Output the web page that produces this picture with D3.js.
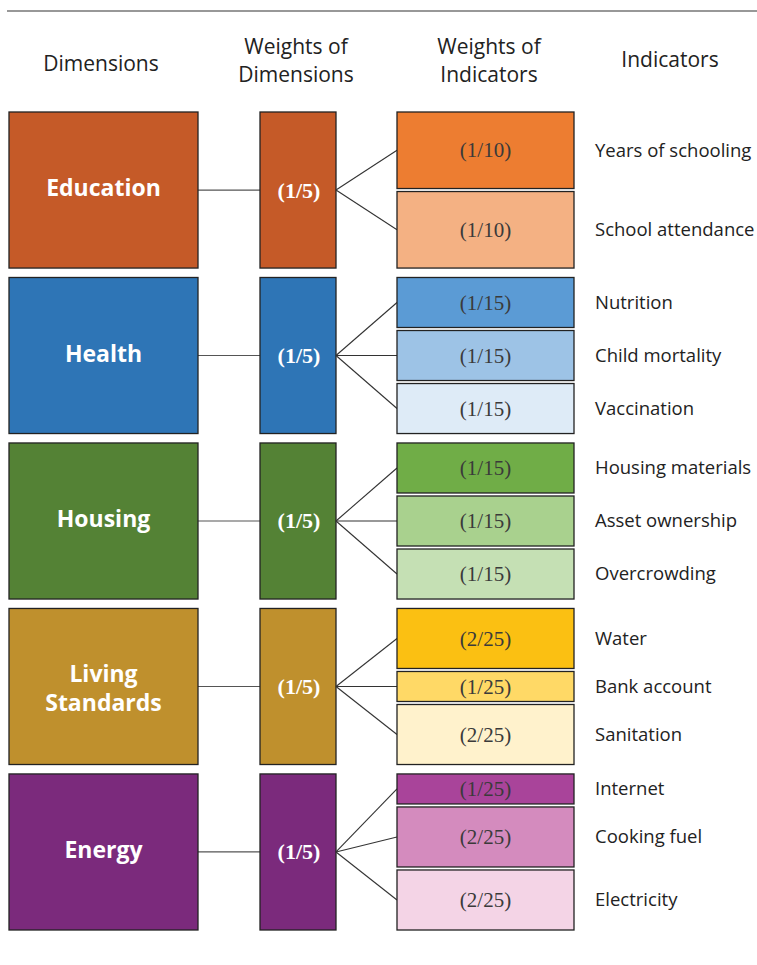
<!DOCTYPE html>
<html><head><meta charset="utf-8">
<script src="https://cdn.jsdelivr.net/npm/d3@7"></script>
<style>body{margin:0;background:#fff}svg{display:block}</style>
</head><body>
<script>
// ---- data ----
const headers = [["Dimensions"], ["Weights of", "Dimensions"], ["Weights of", "Indicators"], ["Indicators"]];
const dimensions = [["Education"], ["Health"], ["Housing"], ["Living", "Standards"], ["Energy"]];
const dimWeightNum = [1, 1, 1, 1, 1];
const dimWeightDen = [5, 5, 5, 5, 5];
const indicatorNames = [
  ["Years of schooling", "School attendance"],
  ["Nutrition", "Child mortality", "Vaccination"],
  ["Housing materials", "Asset ownership", "Overcrowding"],
  ["Water", "Bank account", "Sanitation"],
  ["Internet", "Cooking fuel", "Electricity"]
];
const indicatorNum = [[1, 1], [1, 1, 1], [1, 1, 1], [2, 1, 2], [1, 2, 2]];
const indicatorDen = [[10, 10], [15, 15, 15], [15, 15, 15], [25, 25, 25], [25, 25, 25]];
const dimColors = ["#C55A28", "#2E75B6", "#548235", "#BF902D", "#7B2A7C"];
const indicatorColors = [
  ["#ED7D31", "#F4B183"],
  ["#5B9BD5", "#9DC3E6", "#DEEBF7"],
  ["#70AD47", "#A9D18E", "#C5E0B4"],
  ["#FBC012", "#FFD966", "#FFF2CC"],
  ["#A9449A", "#D48BBE", "#F4D4E6"]
];

// ---- layout ----
const W = 757, H = 965;
const svg = d3.select("body").append("svg").attr("width", W).attr("height", H);
const sans = "'Open Sans', 'Noto Sans', sans-serif";
const serif = "'Liberation Serif', 'DejaVu Serif', serif";

const x = d3.scaleOrdinal().domain(["dimL", "dimR", "wL", "wR", "iL", "iR", "lab"])
  .range([9, 198, 260, 336, 397, 574, 595]);
const y = d3.scaleBand().domain(d3.range(dimensions.length)).range([112, 930]).paddingInner(0.057).paddingOuter(0);
const gap = 3;

svg.append("line").attr("x1", 7).attr("x2", W).attr("y1", 11).attr("y2", 11)
  .attr("stroke", "#333").attr("stroke-width", 1.2);

const headerX = [101, 296, 489, 670];
const headerY = [[71], [54, 82], [54, 82], [67]];
headers.forEach((lines, i) => {
  lines.forEach((t, j) => {
    svg.append("text").attr("x", headerX[i]).attr("y", headerY[i][j])
      .attr("text-anchor", "middle").attr("font-family", sans).attr("font-size", 21)
      .attr("fill", "#222").text(t);
  });
});

dimensions.forEach((dim, i) => {
  const top = y(i), bh = y.bandwidth(), mid = top + bh / 2;
  const g = svg.append("g");
  // connector dim -> weight
  g.append("line").attr("x1", x("dimR")).attr("x2", x("wL")).attr("y1", mid).attr("y2", mid)
    .attr("stroke", "#555").attr("stroke-width", 1.2);
  g.append("rect").attr("x", x("dimL")).attr("y", top).attr("width", x("dimR") - x("dimL")).attr("height", bh)
    .attr("fill", dimColors[i]).attr("stroke", "#222").attr("stroke-width", 1.3);
  const lh = 29;
  const off = dim.length > 1 ? 2 : -2;
  dim.forEach((t, j) => {
    g.append("text").attr("x", (x("dimL") + x("dimR")) / 2)
      .attr("y", mid + (j - (dim.length - 1) / 2) * lh + off)
      .attr("dy", "0.36em").attr("text-anchor", "middle").attr("font-family", sans)
      .attr("font-weight", 700).attr("font-size", 23).attr("fill", "#fff").text(t);
  });
  g.append("rect").attr("x", x("wL")).attr("y", top).attr("width", x("wR") - x("wL")).attr("height", bh)
    .attr("fill", dimColors[i]).attr("stroke", "#222").attr("stroke-width", 1.3);
  g.append("text").attr("x", (x("wL") + x("wR")) / 2 + 1).attr("y", mid).attr("dy", "0.34em")
    .attr("text-anchor", "middle").attr("font-family", serif).attr("font-weight", 700)
    .attr("font-size", 22).attr("fill", "#fff").text(`(${dimWeightNum[i]}/${dimWeightDen[i]})`);

  // indicators
  const n = indicatorNames[i].length;
  const w = indicatorNum[i].map((v, k) => v / indicatorDen[i][k]);
  const total = d3.sum(w);
  const h = d3.scaleLinear().domain([0, total]).range([0, bh - gap * (n - 1)]);
  let cur = top;
  indicatorNames[i].forEach((name, k) => {
    const ih = h(w[k]);
    const imid = cur + ih / 2;
    g.append("line").attr("x1", x("wR")).attr("y1", mid).attr("x2", x("iL")).attr("y2", imid)
      .attr("stroke", "#333").attr("stroke-width", 1.1);
    g.append("rect").attr("x", x("iL")).attr("y", cur).attr("width", x("iR") - x("iL")).attr("height", ih)
      .attr("fill", indicatorColors[i][k]).attr("stroke", "#222").attr("stroke-width", 1.3);
    g.append("text").attr("x", (x("iL") + x("iR")) / 2).attr("y", imid).attr("dy", "0.34em")
      .attr("text-anchor", "middle").attr("font-family", serif).attr("font-size", 21)
      .attr("fill", "#3a3a3a").text(`(${indicatorNum[i][k]}/${indicatorDen[i][k]})`);
    g.append("text").attr("x", x("lab")).attr("y", imid).attr("dy", "0.35em")
      .attr("font-family", sans).attr("font-size", 18.5).attr("fill", "#222").text(name);
    cur += ih + gap;
  });
});
</script>
</body></html>
